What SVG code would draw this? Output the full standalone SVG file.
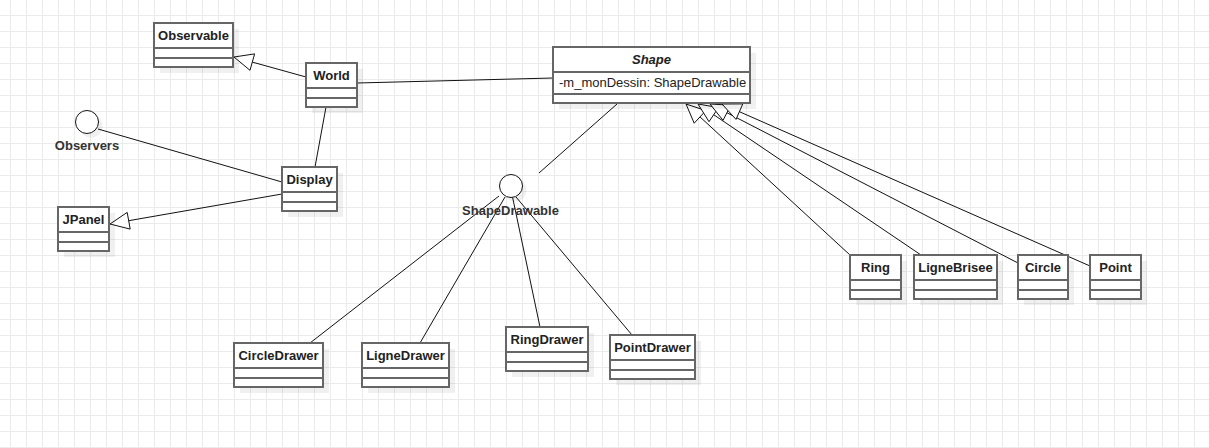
<svg xmlns="http://www.w3.org/2000/svg" width="1209" height="448" viewBox="0 0 1209 448">
<defs>
<pattern id="grid" x="10" y="15" width="16" height="16" patternUnits="userSpaceOnUse">
<path d="M0 0.5H16M0.5 0V16" stroke="#ebebeb" stroke-width="1" fill="none"/>
</pattern>
<style>
.box{fill:#fff;stroke:#666;stroke-width:2}
.sep{stroke:#666;stroke-width:2;fill:none}
.shadow{fill:#000;fill-opacity:0.06}
.name{font-family:"Liberation Sans",Arial,sans-serif;font-size:13px;font-weight:bold;fill:#222;text-anchor:middle}
.attr{font-family:"Liberation Sans",Arial,sans-serif;font-size:13px;fill:#222}
.lbl{font-family:"Liberation Sans",Arial,sans-serif;font-size:13px;font-weight:bold;fill:#333;text-anchor:middle}
.edge{stroke:#111;stroke-width:1;fill:none}
.tri{fill:#fff;stroke:#111;stroke-width:1}
.iface{fill:#fff;stroke:#111;stroke-width:1}
</style>
</defs>
<rect width="1209" height="448" fill="#fff"/>
<rect width="1209" height="448" fill="url(#grid)"/>

<g id="connectors">
<line class="edge" x1="306" y1="77" x2="252.3" y2="62.1"/>
<polygon class="tri" points="234,57 250,70.3 254.6,53.9"/>
<line class="edge" x1="357" y1="83" x2="553" y2="78"/>
<line class="edge" x1="326" y1="107" x2="315" y2="167"/>
<line class="edge" x1="98" y1="129" x2="282" y2="182"/>
<line class="edge" x1="282" y1="194" x2="128.7" y2="220.7"/>
<polygon class="tri" points="110,224 130.2,229.1 127.2,212.4"/>
<line class="edge" x1="617" y1="104" x2="539" y2="173"/>
<line class="edge" x1="499" y1="196" x2="310" y2="343"/>
<line class="edge" x1="505" y1="197" x2="420" y2="343"/>
<line class="edge" x1="512.5" y1="197" x2="540" y2="327"/>
<line class="edge" x1="516" y1="197" x2="632" y2="335"/>
<line class="edge" x1="850" y1="255" x2="700" y2="116.9"/>
<polygon class="tri" points="686,104 694.2,123.2 705.8,110.6"/>
<line class="edge" x1="921" y1="255" x2="713.7" y2="114.7"/>
<polygon class="tri" points="698,104 709,121.7 718.5,107.6"/>
<line class="edge" x1="1018" y1="263" x2="726.9" y2="112.7"/>
<polygon class="tri" points="710,104 723,120.3 730.8,105.2"/>
<line class="edge" x1="1090" y1="266" x2="739.4" y2="111.7"/>
<polygon class="tri" points="722,104 736,119.4 742.8,103.9"/>
</g>

<g id="Observable">
<rect class="shadow" x="160" y="29" width="79" height="44"/>
<rect class="box" x="154" y="23" width="79" height="44"/>
<path class="sep" d="M154 48H233M154 58H233"/>
<text class="name" x="193.5" y="40">Observable</text>
</g>

<g id="World">
<rect class="shadow" x="312" y="69" width="51" height="44"/>
<rect class="box" x="306" y="63" width="51" height="44"/>
<path class="sep" d="M306 88H357M306 98H357"/>
<text class="name" x="331.5" y="80">World</text>
</g>

<g id="Shape">
<rect class="shadow" x="559" y="53" width="197" height="56"/>
<rect class="box" x="553" y="47" width="197" height="56"/>
<path class="sep" d="M553 72H750M553 94H750"/>
<text class="name" x="651.5" y="64" font-style="italic">Shape</text>
<text class="attr" x="559" y="87">-m_monDessin: ShapeDrawable</text>
</g>

<g id="Observers">
<circle class="shadow" cx="91" cy="126" r="11.5"/>
<circle class="iface" cx="87" cy="122" r="11.5"/>
<text class="lbl" x="87" y="150">Observers</text>
</g>

<g id="Display">
<rect class="shadow" x="288" y="173" width="55" height="44"/>
<rect class="box" x="282" y="167" width="55" height="44"/>
<path class="sep" d="M282 192H337M282 202H337"/>
<text class="name" x="309.5" y="184">Display</text>
</g>

<g id="JPanel">
<rect class="shadow" x="64" y="213" width="51" height="44"/>
<rect class="box" x="58" y="207" width="51" height="44"/>
<path class="sep" d="M58 232H109M58 242H109"/>
<text class="name" x="83.5" y="224">JPanel</text>
</g>

<g id="ShapeDrawable">
<circle class="shadow" cx="515" cy="190" r="11.5"/>
<circle class="iface" cx="511" cy="186" r="11.5"/>
<text class="lbl" x="510.5" y="215">ShapeDrawable</text>
</g>

<g id="CircleDrawer">
<rect class="shadow" x="240" y="349" width="89" height="44"/>
<rect class="box" x="234" y="343" width="89" height="44"/>
<path class="sep" d="M234 368H323M234 378H323"/>
<text class="name" x="278.5" y="360">CircleDrawer</text>
</g>

<g id="LigneDrawer">
<rect class="shadow" x="368" y="349" width="87" height="44"/>
<rect class="box" x="362" y="343" width="87" height="44"/>
<path class="sep" d="M362 368H449M362 378H449"/>
<text class="name" x="405.5" y="360">LigneDrawer</text>
</g>

<g id="RingDrawer">
<rect class="shadow" x="512" y="333" width="82" height="44"/>
<rect class="box" x="506" y="327" width="82" height="44"/>
<path class="sep" d="M506 352H588M506 362H588"/>
<text class="name" x="547" y="344">RingDrawer</text>
</g>

<g id="PointDrawer">
<rect class="shadow" x="616" y="341" width="85" height="44"/>
<rect class="box" x="610" y="335" width="85" height="44"/>
<path class="sep" d="M610 360H695M610 370H695"/>
<text class="name" x="652.5" y="352">PointDrawer</text>
</g>

<g id="Ring">
<rect class="shadow" x="856" y="261" width="51" height="44"/>
<rect class="box" x="850" y="255" width="51" height="44"/>
<path class="sep" d="M850 280H901M850 290H901"/>
<text class="name" x="875.5" y="272">Ring</text>
</g>

<g id="LigneBrisee">
<rect class="shadow" x="920" y="261" width="83" height="44"/>
<rect class="box" x="914" y="255" width="83" height="44"/>
<path class="sep" d="M914 280H997M914 290H997"/>
<text class="name" x="955.5" y="272">LigneBrisee</text>
</g>

<g id="Circle">
<rect class="shadow" x="1024" y="261" width="50" height="44"/>
<rect class="box" x="1018" y="255" width="50" height="44"/>
<path class="sep" d="M1018 280H1068M1018 290H1068"/>
<text class="name" x="1043" y="272">Circle</text>
</g>

<g id="Point">
<rect class="shadow" x="1096" y="261" width="51" height="44"/>
<rect class="box" x="1090" y="255" width="51" height="44"/>
<path class="sep" d="M1090 280H1141M1090 290H1141"/>
<text class="name" x="1115.5" y="272">Point</text>
</g>
</svg>
